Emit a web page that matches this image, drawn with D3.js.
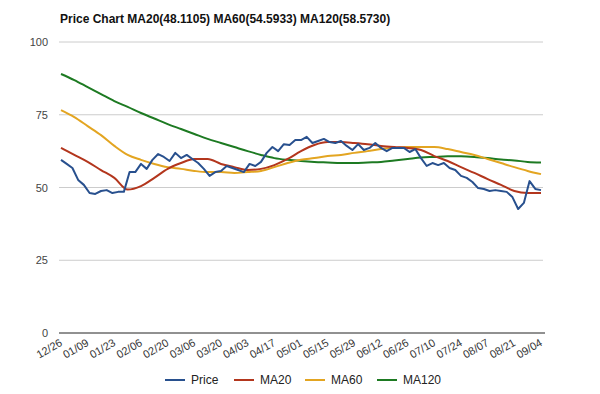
<!DOCTYPE html>
<html>
<head>
<meta charset="utf-8">
<script src="https://cdn.jsdelivr.net/npm/d3@7"></script>
<style>
  body { margin: 0; background: #fff; }
  text { font-family: "Liberation Sans", Arial, sans-serif; }
</style>
</head>
<body>
<svg width="600" height="394"></svg>
<script>
const svg = d3.select("svg");

const width = 600;
const height = 394;

const margin = { top: 42, right: 59, bottom: 61, left: 61 };

const startDate = "2012-12-26";
const endDate = "2013-09-04";

// x axis labels (every two weeks)
const tickLabels = ["12/26", "01/09", "01/23", "02/06", "02/20", "03/06", "03/20", "04/03", "04/17",
    "05/01", "05/15", "05/29", "06/12", "06/26", "07/10", "07/24", "08/07", "08/21", "09/04"];

const yTicks = [0, 25, 50, 75, 100];

// price sampled every 3 days
const priceStep = 3;
const priceValues = [59.5, 58.1, 56.7, 52.6, 50.9, 48.1, 47.8, 48.8, 49.1, 48.1, 48.5, 48.5,
    55.3, 55.3, 58.1, 56.4, 59.5, 61.5, 60.5, 59.1, 61.9, 60.1, 61.2, 59.8, 58.4, 56.4, 54.0,
    55.3, 55.7, 57.4, 56.7, 56.0, 55.3, 58.1, 57.4, 58.8, 61.9, 63.9, 62.5, 64.9, 64.6, 66.3,
    66.3, 67.4, 65.3, 66.0, 66.7, 65.6, 65.3, 66.0, 64.3, 62.9, 64.9, 62.9, 63.6, 65.3, 63.6,
    62.5, 63.6, 63.6, 63.6, 62.2, 63.2, 60.1, 57.4, 58.4, 57.7, 58.4, 56.7, 56.0, 54.0, 53.3,
    51.9, 49.8, 49.5, 48.8, 49.1, 48.8, 48.5, 46.7, 42.6, 44.7, 52.2, 49.5, 49.1];

// moving averages sampled every 7 days
const maStep = 7;
const ma20Values = [63.6, 61.2, 58.8, 56.0, 53.3, 49.3, 50.5, 53.3, 56.4, 58.4, 59.8, 59.8,
    58.1, 57.0, 56.0, 56.4, 57.7, 59.8, 62.5, 64.6, 65.6, 65.6, 65.3, 64.9, 64.3, 63.9, 63.6,
    62.9, 60.8, 59.1, 57.0, 55.0, 52.9, 50.9, 48.8, 48.1, 48.1];
const ma60Values = [76.6, 74.2, 71.1, 68.0, 64.3, 61.2, 59.5, 58.1, 57.0, 56.4, 55.7, 55.3,
    55.3, 55.0, 55.3, 55.7, 57.0, 58.4, 59.5, 60.1, 60.8, 61.2, 61.9, 62.5, 63.2, 63.6, 63.9,
    63.9, 63.9, 63.2, 62.2, 61.2, 59.8, 58.4, 57.0, 55.7, 54.6];
const ma120Values = [89.0, 86.9, 84.5, 82.1, 79.7, 77.7, 75.6, 73.7, 71.8, 70.1, 68.4, 66.7,
    65.3, 63.9, 62.5, 61.2, 60.1, 59.5, 59.1, 58.8, 58.6, 58.4, 58.4, 58.6, 58.8, 59.3, 59.8,
    60.3, 60.5, 60.7, 60.7, 60.5, 60.1, 59.6, 59.3, 58.8, 58.6];

const seriesNames = ["Price", "MA20", "MA60", "MA120"];
const seriesColors = ["#28508e", "#b3361d", "#e3a521", "#1d7a22"];

const parse = d3.timeParse("%Y-%m-%d");
const t0 = parse(startDate);
const t1 = parse(endDate);

const toPoints = (values, step) => values.map((v, i) => ({ date: d3.timeDay.offset(t0, i * step), value: v }));

const series = [
    toPoints(priceValues, priceStep),
    toPoints(ma20Values, maStep),
    toPoints(ma60Values, maStep),
    toPoints(ma120Values, maStep)
];

const xScale = d3.scaleTime()
    .domain([t0, t1])
    .range([margin.left, width - margin.right]);

const yScale = d3.scaleLinear()
    .domain([0, 100])
    .range([height - margin.bottom, margin.top]);

const tickDates = tickLabels.map((s, i) => d3.timeDay.offset(t0, i * 14));

// gridlines
svg.append("g")
    .selectAll("line")
    .data(yTicks.filter(d => d > 0))
    .enter()
    .append("line")
    .attr("x1", margin.left - 2)
    .attr("x2", width - margin.right + 2)
    .attr("y1", d => yScale(d))
    .attr("y2", d => yScale(d))
    .attr("stroke", "#cccccc")
    .attr("stroke-width", 1);

// y labels
svg.append("g")
    .selectAll("text")
    .data(yTicks)
    .enter()
    .append("text")
    .attr("x", 48)
    .attr("y", d => yScale(d) + 4)
    .attr("text-anchor", "end")
    .style("font-size", "11px")
    .attr("fill", "#444")
    .text(d => d);

// zero baseline
svg.append("line")
    .attr("x1", margin.left - 2)
    .attr("x2", width - margin.right + 4)
    .attr("y1", yScale(0))
    .attr("y2", yScale(0))
    .attr("stroke", "#222")
    .attr("stroke-width", 1);

// x labels
svg.append("g")
    .selectAll("text")
    .data(tickDates)
    .enter()
    .append("text")
    .attr("text-anchor", "end")
    .attr("transform", d => `translate(${xScale(d) + 2},${yScale(0) + 12}) rotate(-30)`)
    .style("font-size", "11px")
    .attr("fill", "#333")
    .text((d, i) => tickLabels[i]);

// lines, price on top
const line = d3.line()
    .x(d => xScale(d.date))
    .y(d => yScale(d.value));

[3, 2, 1, 0].forEach(k => {
    svg.append("path")
        .datum(series[k])
        .attr("fill", "none")
        .attr("stroke", seriesColors[k])
        .attr("stroke-width", 2)
        .attr("stroke-linejoin", "round")
        .attr("d", line.curve(k === 0 ? d3.curveLinear : d3.curveMonotoneX));
});

// title
svg.append("text")
    .attr("x", 60)
    .attr("y", 23)
    .style("font-size", "12px")
    .style("font-weight", "bold")
    .attr("fill", "#111")
    .text("Price Chart MA20(48.1105) MA60(54.5933) MA120(58.5730)");

// legend
const legendX = [165, 234, 305, 377];
const legend = svg.append("g")
    .selectAll("g")
    .data(seriesNames)
    .enter()
    .append("g")
    .attr("transform", (d, i) => `translate(${legendX[i]},380)`);

legend.append("line")
    .attr("x1", 0)
    .attr("x2", 20)
    .attr("stroke", (d, i) => seriesColors[i])
    .attr("stroke-width", 2);

legend.append("text")
    .attr("x", 26)
    .attr("y", 4)
    .style("font-size", "12px")
    .attr("fill", "#222")
    .text(d => d);
</script>
</body>
</html>
